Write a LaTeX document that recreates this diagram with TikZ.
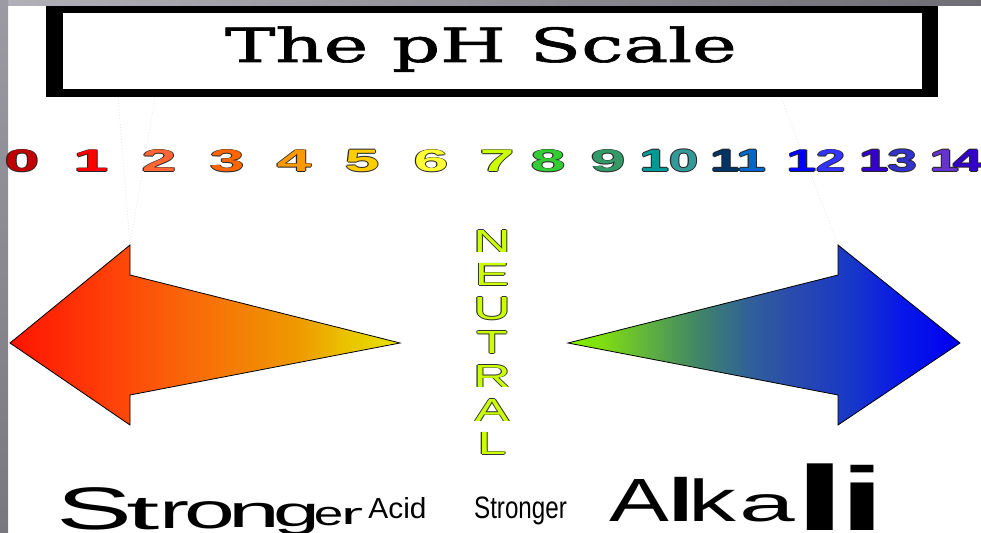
\documentclass[tikz,border=0pt]{standalone}
\usepackage{fontspec}
\usepackage{graphicx}
\setmainfont{DejaVu Serif}
\newfontfamily\titlef[FakeBold=1.2]{DejaVu Serif}
\newfontfamily\arialf{Liberation Sans}
\definecolor{c0}{HTML}{C00000}
\definecolor{c1}{HTML}{FF0000}
\definecolor{c2}{HTML}{FF6633}
\definecolor{c3}{HTML}{FF6600}
\definecolor{c4}{HTML}{FF9900}
\definecolor{c5}{HTML}{FFCC00}
\definecolor{c6}{HTML}{FFFF33}
\definecolor{c7}{HTML}{CCFF00}
\definecolor{c8}{HTML}{33CC33}
\definecolor{c9}{HTML}{339966}
\definecolor{c10a}{HTML}{009999}
\definecolor{c10b}{HTML}{339999}
\definecolor{c11a}{HTML}{003366}
\definecolor{c11b}{HTML}{0066CC}
\definecolor{c12a}{HTML}{0000FF}
\definecolor{c12b}{HTML}{3333FF}
\definecolor{c13a}{HTML}{3300CC}
\definecolor{c13b}{HTML}{3333CC}
\definecolor{c14a}{HTML}{6633CC}
\definecolor{c14b}{HTML}{3300CC}
\definecolor{neutc}{HTML}{CCFF00}
\definecolor{frameA}{HTML}{B2B0B8}
\definecolor{frameB}{HTML}{6E6C74}
\definecolor{frameC}{HTML}{9C9AA4}
\definecolor{frameD}{HTML}{78767E}
\definecolor{a0}{HTML}{FF1400}
\definecolor{a1}{HTML}{FF3A08}
\definecolor{a2}{HTML}{F86C08}
\definecolor{a3}{HTML}{EE9A00}
\definecolor{a4}{HTML}{EAC200}
\definecolor{a5}{HTML}{E6E400}
\definecolor{k0}{HTML}{84F000}
\definecolor{k1}{HTML}{80E010}
\definecolor{k2}{HTML}{5EB040}
\definecolor{k3}{HTML}{3F8468}
\definecolor{k4}{HTML}{30609A}
\definecolor{k5}{HTML}{2848B0}
\definecolor{k6}{HTML}{1838C8}
\definecolor{k7}{HTML}{0818E8}
\definecolor{k8}{HTML}{0000F0}
\pgfdeclarehorizontalshading{acidsh}{100bp}{color(0bp)=(a0); color(25bp)=(a0); color(36bp)=(a1); color(49bp)=(a2); color(62bp)=(a3); color(68bp)=(a4); color(75bp)=(a5); color(100bp)=(a5)}
\pgfdeclarehorizontalshading{alkash}{100bp}{color(0bp)=(k0); color(25bp)=(k0); color(29bp)=(k1); color(35.5bp)=(k2); color(41.8bp)=(k3); color(48.2bp)=(k4); color(54.6bp)=(k5); color(61bp)=(k6); color(67.3bp)=(k7); color(75bp)=(k8); color(100bp)=(k8)}
\newcommand\outl[4][0.6pt]{%
  \makebox[0pt][l]{\kern#1\textcolor{#2}{#4}}%
  \makebox[0pt][l]{\kern-#1\textcolor{#2}{#4}}%
  \makebox[0pt][l]{\raisebox{#1}{\textcolor{#2}{#4}}}%
  \makebox[0pt][l]{\raisebox{-#1}{\textcolor{#2}{#4}}}%
  \textcolor{#3}{#4}}
\newcommand\dg[2]{\scalebox{2.0}[1]{\outl{black!85}{#1}{#2}}}
\newcommand\dd[2]{\scalebox{1.7}[1]{\outl[0.7pt]{black!85}{#1}{#2}}}
\begin{document}
\begin{tikzpicture}[x=1pt,y=-1pt,
  dig/.style={inner sep=0pt, anchor=center, font=\arialf\bfseries\fontsize{31}{31}\selectfont},
  neut/.style={inner sep=0pt, anchor=base, font=\arialf\fontsize{32}{32}\selectfont},
  word/.style={inner sep=0pt, anchor=base, text=black},
  faint/.style={draw=gray!20, line width=0.6pt, dash pattern=on 1pt off 2pt},
  arrowshape/.style={draw=black, line width=0.8pt, line join=miter}]
\useasboundingbox (0,0) rectangle (981,532);
\fill[white] (0,0) rectangle (981,532);
\shade[left color=frameA, right color=frameB] (0,0) rectangle (981,6);
\shade[top color=frameC, bottom color=frameD] (0,0) rectangle (8,532);
% title box
\fill[black] (46,6) rectangle (938,97);
\fill[white] (63,13) rectangle (922,89);
\node[inner sep=0pt, anchor=base, font=\titlef\fontsize{47}{47}\selectfont] (title) at (481,62) {\scalebox{1.6}[1]{The pH Scale}};
% faint guide lines
\coordinate (gl1) at (118,97);
\coordinate (gl2) at (155,97);
\coordinate (gr1) at (781,97);
\coordinate (lhead) at (130,245);
\coordinate (rhead) at (838,245);
\draw[faint] (gl1) -- (lhead);
\draw[faint] (gl2) -- (lhead);
\draw[faint] (gr1) -- (rhead);
% arrows
\shadedraw[shading=acidsh, arrowshape] (10,343) -- (130,245) -- (130,275) -- (400,343) -- (130,395) -- (130,425) -- cycle;
\shadedraw[shading=alkash, arrowshape] (960,343) -- (838,245) -- (838,275) -- (568,343) -- (838,395) -- (838,425) -- cycle;
% digits
\node[dig] (d0) at (22,161) {\dg{c0}{0}};
\node[dig] (d1) at (91,161) {\dg{c1}{1}};
\node[dig] (d2) at (159,161) {\dg{c2}{2}};
\node[dig] (d3) at (227,161) {\dg{c3}{3}};
\node[dig] (d4) at (294,161) {\dg{c4}{4}};
\node[dig] (d5) at (362,161) {\dg{c5}{5}};
\node[dig] (d6) at (431,161) {\dg{c6}{6}};
\node[dig] (d7) at (497,161) {\dg{c7}{7}};
\node[dig] (d8) at (548,161) {\dg{c8}{8}};
\node[dig] (d9) at (608,161) {\dg{c9}{9}};
\node[dig] (d10) at (669,161) {\dd{c10a}{1}\dd{c10b}{0}};
\node[dig] (d11) at (738,161) {\dd{c11a}{1}\kern-3pt\dd{c11b}{1}};
\node[dig] (d12) at (816,161) {\dd{c12a}{1}\dd{c12b}{2}};
\node[dig] (d13) at (888,161) {\dd{c13a}{1}\kern-1pt\dd{c13b}{3}};
\node[dig] (d14) at (956,161) {\dd{c14a}{1}\kern-6pt\dd{c14b}{4}};
% NEUTRAL
\foreach \ch [count=\i] in {N,E,U,T,R,A,L}
  \node[neut] (n\i) at (492,{252+33.8*(\i-1)}) {\scalebox{1.6}[1]{\outl[0.7pt]{black!80}{neutc}{\ch}}};
% bottom words
\foreach \px/\py/\sz/\xs/\txt [count=\k] in {
  95/529/60/1.9/S, 143.5/529/48/2.5/t, 174.5/528/50/1.8/r, 209.5/528/50/1.83/o,
  254.5/527/45/2.07/n, 297/526/42/2.0/g, 328.5/525/34/1.56/e, 352/524/30/2.2/r,
  397.5/518/29/1.03/Acid, 520.5/518/31/0.78/Stronger,
  639/521/61/1.47/A, 681.5/521/61/2.3/l, 712.5/521/59/1.62/k, 767.5/521/50/2.0/a,
  820/530/92/3.2/l, 862.5/530/90/2.9/i}
  \node[word, font=\arialf\fontsize{\sz}{\sz}\selectfont] (b\k) at (\px,\py) {\scalebox{\xs}[1]{\txt}};
\end{tikzpicture}
\end{document}
